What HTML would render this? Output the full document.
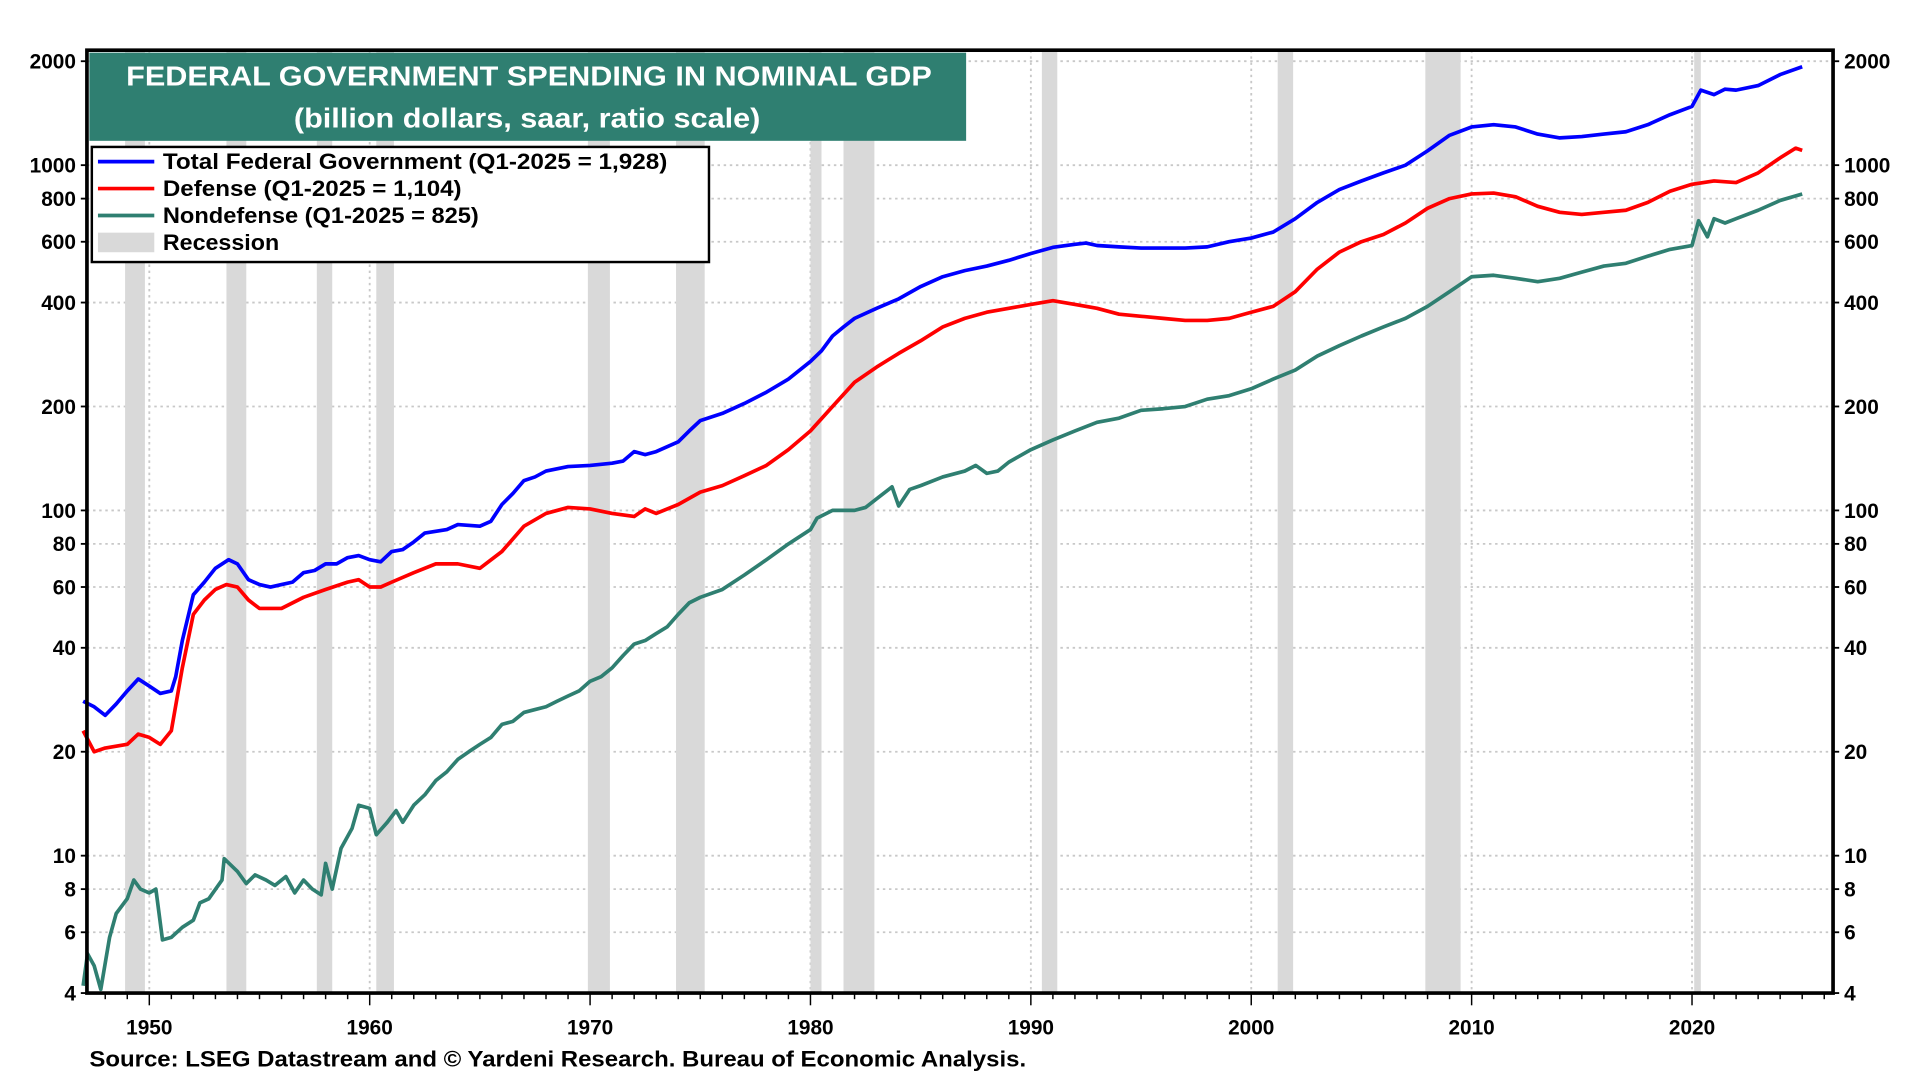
<!DOCTYPE html>
<html><head><meta charset="utf-8"><style>
html,body{margin:0;padding:0;background:#fff;}
svg{display:block;font-family:"Liberation Sans",Arial,sans-serif;}
</style></head><body>
<svg id="chart" width="1920" height="1080" viewBox="0 0 1568 882" xmlns="http://www.w3.org/2000/svg">
<g id="grid"></g>
<g id="rec"></g>
<g id="series"></g>
<g id="axes"></g>
<g>
<rect x="73" y="43" width="716" height="72" fill="#2f7f71"/>
<text x="103" y="70" textLength="658" lengthAdjust="spacingAndGlyphs" fill="#fff" font-weight="bold" font-size="23">FEDERAL GOVERNMENT SPENDING IN NOMINAL GDP</text>
<text x="240" y="104" textLength="381" lengthAdjust="spacingAndGlyphs" fill="#fff" font-weight="bold" font-size="23">(billion dollars, saar, ratio scale)</text>
</g>
<g>
<rect x="75" y="120" width="504" height="94" fill="#fff" stroke="#000" stroke-width="2"/>
<g><line x1="80" y1="132" x2="126" y2="132" stroke="#0000ff" stroke-width="3"/><text x="133" y="138" textLength="412" lengthAdjust="spacingAndGlyphs" font-size="18" font-weight="bold">Total Federal Government  (Q1-2025 = 1,928)</text></g>
<g><line x1="80" y1="154" x2="126" y2="154" stroke="#ff0000" stroke-width="3"/><text x="133" y="160" textLength="244" lengthAdjust="spacingAndGlyphs" font-size="18" font-weight="bold">Defense  (Q1-2025 = 1,104)</text></g>
<g><line x1="80" y1="176" x2="126" y2="176" stroke="#2f7f71" stroke-width="3"/><text x="133" y="182" textLength="258" lengthAdjust="spacingAndGlyphs" font-size="18" font-weight="bold">Nondefense (Q1-2025 = 825)</text></g>
<g><rect x="80" y="190" width="46" height="16" fill="#d9d9d9"/><text x="133" y="204" textLength="95" lengthAdjust="spacingAndGlyphs" font-size="18" font-weight="bold">Recession</text></g>
</g>
<text x="73" y="871" textLength="765" lengthAdjust="spacingAndGlyphs" font-size="18" font-weight="bold">Source: LSEG Datastream and © Yardeni Research. Bureau of Economic Analysis.</text>
</svg>
<script>
const yTicks=[2000,1000,800,600,400,200,100,80,60,40,20,10,8,6,4];
const xTicks=[1950,1960,1970,1980,1990,2000,2010,2020];
const recStart=[1948.9,1953.5,1957.6,1960.3,1969.9,1973.9,1980.0,1981.5,1990.5,2001.2,2007.9,2020.1];
const recEnd=[1949.8,1954.4,1958.3,1961.1,1970.9,1975.2,1980.5,1982.9,1991.2,2001.9,2009.5,2020.4];
const totalYears=[1947,1947.5,1948,1948.5,1949,1949.5,1950,1950.5,1951,1951.2,1951.5,1952,1952.5,1953,1953.6,1954,1954.5,1955,1955.5,1956,1956.5,1957,1957.5,1958,1958.5,1959,1959.5,1960,1960.5,1961,1961.5,1962,1962.5,1963,1963.5,1964,1965,1965.5,1966,1966.5,1967,1967.5,1968,1969,1970,1971,1971.5,1972,1972.5,1973,1973.5,1974,1974.5,1975,1976,1977,1978,1979,1980,1980.5,1981,1981.5,1982,1983,1984,1985,1986,1987,1988,1989,1990,1991,1992,1992.5,1993,1994,1995,1996,1997,1998,1999,2000,2001,2002,2003,2004,2005,2006,2007,2008,2009,2010,2011,2012,2013,2014,2015,2016,2017,2018,2019,2020,2020.4,2021,2021.5,2022,2023,2024,2025];
const totalVals=[28,27,25.5,27.5,30,32.5,31,29.5,30,33,42,57,62,68,72,70,63,61,60,61,62,66,67,70,70,73,74,72,71,76,77,81,86,87,88,91,90,93,104,112,122,125,130,134,135,137,139,148,145,148,153,158,170,182,191,204,220,240,270,290,320,340,360,385,410,445,475,495,510,530,555,578,590,595,585,580,575,575,575,580,600,615,640,700,780,850,900,950,1000,1100,1220,1290,1310,1290,1230,1200,1210,1230,1250,1310,1400,1480,1650,1600,1660,1650,1700,1830,1928];
const defYears=[1947,1947.5,1948,1949,1949.5,1950,1950.5,1951,1951.5,1952,1952.5,1953,1953.5,1954,1954.5,1955,1956,1957,1958,1959,1959.5,1960,1960.5,1961,1962,1963,1964,1965,1966,1967,1968,1969,1970,1971,1972,1972.5,1973,1974,1975,1976,1977,1978,1979,1980,1981,1982,1983,1984,1985,1986,1987,1988,1989,1990,1991,1992,1993,1994,1995,1996,1997,1998,1999,2000,2001,2002,2003,2004,2005,2006,2007,2008,2009,2010,2011,2012,2013,2014,2015,2016,2017,2018,2019,2020,2021,2022,2023,2024,2024.7,2025];
const defVals=[23,20,20.5,21,22.5,22,21,23,35,50,55,59,61,60,55,52,52,56,59,62,63,60,60,62,66,70,70,68,76,90,98,102,101,98,96,101,98,104,113,118,126,135,150,170,200,235,260,285,310,340,360,375,385,395,405,395,385,370,365,360,355,355,360,375,390,430,500,560,600,630,680,750,800,825,830,810,760,730,720,730,740,780,840,880,900,890,950,1050,1120,1104];
const ndYears=[1947,1947.2,1947.5,1947.8,1948.2,1948.5,1949,1949.3,1949.6,1950,1950.3,1950.6,1951,1951.5,1952,1952.3,1952.7,1953.3,1953.4,1954,1954.4,1954.8,1955.3,1955.7,1956.2,1956.6,1957,1957.4,1957.8,1958,1958.3,1958.7,1959.2,1959.5,1960,1960.3,1960.8,1961.2,1961.5,1962,1962.5,1963,1963.5,1964,1964.5,1965,1965.5,1966,1966.5,1967,1967.5,1968,1968.5,1969,1969.5,1970,1970.5,1971,1971.5,1972,1972.5,1973,1973.5,1974,1974.5,1975,1976,1977,1978,1979,1980,1980.3,1981,1982,1982.5,1983,1983.7,1984,1984.5,1985,1986,1987,1987.5,1988,1988.5,1989,1990,1991,1992,1993,1994,1995,1996,1997,1998,1999,2000,2001,2002,2003,2004,2005,2006,2007,2008,2009,2010,2011,2012,2013,2014,2015,2016,2017,2018,2019,2020,2020.3,2020.7,2021,2021.5,2022,2023,2024,2025];
const ndVals=[4.2,5.2,4.8,4.1,5.8,6.8,7.5,8.5,8,7.8,8,5.7,5.8,6.2,6.5,7.3,7.5,8.5,9.8,9,8.3,8.8,8.5,8.2,8.7,7.8,8.5,8,7.7,9.5,8,10.5,12,14,13.7,11.5,12.5,13.5,12.5,14,15,16.5,17.5,19,20,21,22,24,24.5,26,26.5,27,28,29,30,32,33,35,38,41,42,44,46,50,54,56,59,65,72,80,88,95,100,100,102,108,117,103,115,118,125,130,135,128,130,138,150,160,170,180,185,195,197,200,210,215,225,240,255,280,300,320,340,360,390,430,475,480,470,460,470,490,510,520,545,570,585,690,620,700,680,700,740,790,825];

const L=71,R=1497,T=41,B=811;
const X0=1947.17,X1=2026.4;
const x=yr=>L+(yr-X0)/(X1-X0)*(R-L);
const S=(811-50)/Math.log10(500);
const y=v=>B-(Math.log10(v)-Math.log10(4))*S;
const NS="http://www.w3.org/2000/svg";
function mk(parent,tag,attrs){const e=document.createElementNS(NS,tag);for(const k in attrs)e.setAttribute(k,attrs[k]);document.getElementById(parent).appendChild(e);return e;}

yTicks.forEach(v=>{
  if(v===4)return;
  const g=mk('grid','line',{x1:L,x2:R,y1:y(v),y2:y(v),stroke:'#c8c8c8','stroke-width':1.5,'stroke-dasharray':'2,3'});
  
  
});
xTicks.forEach(yr=>{
  const g=mk('grid','line',{x1:x(yr),x2:x(yr),y1:T,y2:B,stroke:'#c8c8c8','stroke-width':1.5,'stroke-dasharray':'2,3'});
  
  
});
recStart.forEach((s,i)=>{
  const r=mk('rec','rect',{x:x(s),y:T,width:Math.max(2,x(recEnd[i])-x(s)),height:B-T,fill:'#d9d9d9'});
  
  
});
function line(years,vals,color,name){
  const d=years.map((yr,i)=>(i?'L':'M')+x(yr).toFixed(1)+','+y(vals[i]).toFixed(1)).join('');
  const p=mk('series','path',{d:d,fill:'none',stroke:color,'stroke-width':3,'stroke-linejoin':'round'});
  
  
}
line(ndYears,ndVals,'#2f7f71','nondefense-line');
line(defYears,defVals,'#ff0000','defense-line');
line(totalYears,totalVals,'#0000ff','total-line');

const frame=mk('axes','path',{d:`M${L},${B}L${L},${T}L${R},${T}L${R},${B}Z`,fill:'none',stroke:'#000','stroke-width':3});


yTicks.forEach(v=>{
  const yy=y(v);
  mk('axes','line',{x1:L-5,x2:L,y1:yy,y2:yy,stroke:'#000','stroke-width':1.5});
  mk('axes','line',{x1:R,x2:R+5,y1:yy,y2:yy,stroke:'#000','stroke-width':1.5});
  const t1=mk('axes','text',{x:L-9,y:yy+6,'text-anchor':'end','font-size':17,'font-weight':'bold'});
  t1.textContent=v;
  
  
  const t2=mk('axes','text',{x:R+9,y:yy+6,'font-size':17,'font-weight':'bold'});
  t2.textContent=v;
  
  
});
for(let yr=1948;yr<=2026;yr++){
  const big=yr%10===0;
  mk('axes','line',{x1:x(yr),x2:x(yr),y1:B,y2:B+(big?10:5),stroke:'#000','stroke-width':1.2});
}
xTicks.forEach(yr=>{
  const t=mk('axes','text',{x:x(yr),y:B+34,'text-anchor':'middle','font-size':17,'font-weight':'bold'});
  t.textContent=yr;
  
  
});
</script>
</body></html>
